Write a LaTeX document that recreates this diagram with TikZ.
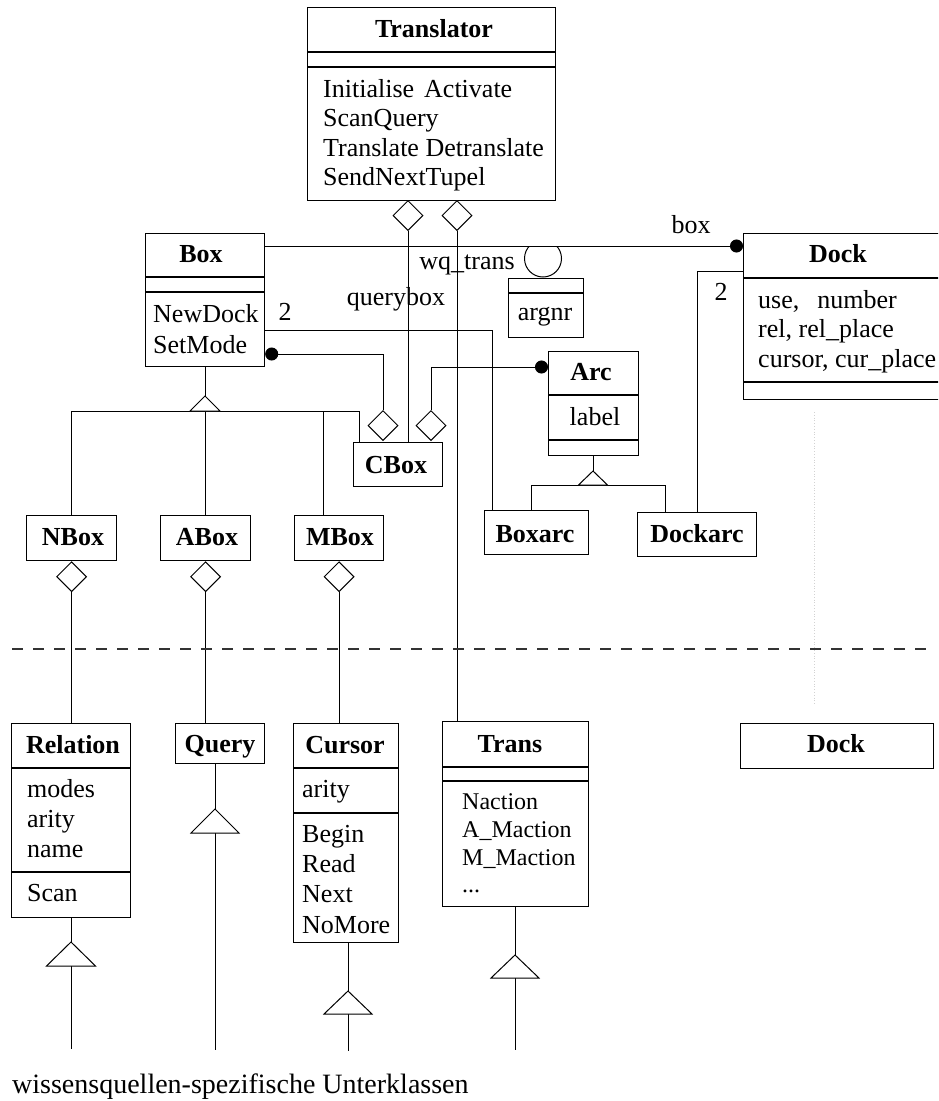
\documentclass[tikz,border=0pt]{standalone}
\usepackage{fontspec}
\setmainfont{Liberation Serif}
\usetikzlibrary{arrows.meta,shapes.geometric,calc}

\newcommand{\fsN}{\fontsize{26}{29}\selectfont}
\newcommand{\fsS}{\fontsize{24}{28}\selectfont}
\newcommand{\fsL}{\fontsize{28}{32}\selectfont}

\begin{document}
\begin{tikzpicture}[x=1pt,y=-1pt,
  cls/.style={draw, line width=1.2pt, anchor=north west, inner sep=0pt, fill=white},
  ttl/.style={anchor=base, inner sep=0pt, font=\fsN\bfseries},
  txt/.style={anchor=base west, inner sep=0pt, font=\fsN},
  stxt/.style={anchor=base west, inner sep=0pt, font=\fsS},
  lbl/.style={anchor=base, inner sep=0pt, font=\fsN},
  conn/.style={line width=1pt},
  dotend/.style={conn, {Circle[length=13pt]}-},
  agg/.style={diamond, draw, line width=1pt, fill=white, inner sep=0pt,
              minimum width=30pt, minimum height=30pt},
  gen/.style={draw, line width=1pt, fill=white},
  div/.style={line width=1.2pt},
  thdiv/.style={line width=1.8pt}
]
\useasboundingbox (0,0) rectangle (938,1101);
\clip (0,0) rectangle (938,1101);

% ---------- class boxes ----------
\node[cls, minimum width=248pt, minimum height=193pt] (trl)    at (307,7)   {};
\node[cls, minimum width=119pt, minimum height=133pt] (box)    at (145,233) {};
\node[cls, minimum width=220pt, minimum height=166pt] (dock)   at (743,233) {};
\node[cls, minimum width=75pt,  minimum height=59pt]  (argnr)  at (508,278) {};
\node[cls, minimum width=90pt,  minimum height=104pt] (arc)    at (548,351) {};
\node[cls, minimum width=89pt,  minimum height=44pt]  (cbox)   at (353,442) {};
\node[cls, minimum width=104pt, minimum height=44pt]  (boxarc) at (484,510) {};
\node[cls, minimum width=119pt, minimum height=44pt]  (dockarc) at (637,512) {};
\node[cls, minimum width=90pt,  minimum height=45pt]  (nbox)   at (26,515)  {};
\node[cls, minimum width=90pt,  minimum height=45pt]  (abox)   at (160,515) {};
\node[cls, minimum width=89pt,  minimum height=45pt]  (mbox)   at (294,515) {};
\node[cls, minimum width=119pt, minimum height=194pt] (rel)    at (11,723)  {};
\node[cls, minimum width=89pt,  minimum height=40pt]  (query)  at (175,723) {};
\node[cls, minimum width=105pt, minimum height=219pt] (cursor) at (293,723) {};
\node[cls, minimum width=146pt, minimum height=185pt] (trans)  at (442,721) {};
\node[cls, minimum width=193pt, minimum height=45pt]  (dockb)  at (740,723) {};

% ---------- compartment dividers ----------
\draw[thdiv] (trl.west |- 0,52) -- (trl.east |- 0,52);
\draw[thdiv] (trl.west |- 0,67) -- (trl.east |- 0,67);
\draw[thdiv] (box.west |- 0,277) -- (box.east |- 0,277);
\draw[thdiv] (box.west |- 0,292) -- (box.east |- 0,292);
\draw[div] (dock.west |- 0,278) -- (dock.east |- 0,278);
\draw[div] (dock.west |- 0,382) -- (dock.east |- 0,382);
\draw[thdiv] (argnr.west |- 0,293) -- (argnr.east |- 0,293);
\draw[div] (arc.west |- 0,395) -- (arc.east |- 0,395);
\draw[div] (arc.west |- 0,440) -- (arc.east |- 0,440);
\draw[div] (rel.west |- 0,768) -- (rel.east |- 0,768);
\draw[div] (rel.west |- 0,872) -- (rel.east |- 0,872);
\draw[div] (cursor.west |- 0,768) -- (cursor.east |- 0,768);
\draw[thdiv] (cursor.west |- 0,813) -- (cursor.east |- 0,813);
\draw[thdiv] (trans.west |- 0,767) -- (trans.east |- 0,767);
\draw[div] (trans.west |- 0,781) -- (trans.east |- 0,781);

% ---------- class names ----------
\node[ttl] (t-trl)    at (434,37)  {Translator};
\node[ttl] (t-box)    at (201,262) {Box};
\node[ttl] (t-dock)   at (838,262) {Dock};
\node[ttl] (t-arc)    at (591,380) {Arc};
\node[ttl] (t-cbox)   at (396,473) {CBox};
\node[ttl] (t-boxarc) at (535,542) {Boxarc};
\node[ttl] (t-dockarc) at (697,542) {Dockarc};
\node[ttl] (t-nbox)   at (73,545)  {NBox};
\node[ttl] (t-abox)   at (207,545) {ABox};
\node[ttl] (t-mbox)   at (340,545) {MBox};
\node[ttl] (t-rel)    at (73,753)  {Relation};
\node[ttl] (t-query)  at (220,752) {Query};
\node[ttl] (t-cursor) at (345,753) {Cursor};
\node[ttl] (t-trans)  at (510,752) {Trans};
\node[ttl] (t-dockb)  at (836,752) {Dock};

% ---------- members ----------
\node[txt] (m-trl1) at (323,97)  {Initialise\hspace{10pt}Activate};
\node[txt] (m-trl2) at (323,126) {ScanQuery};
\node[txt] (m-trl3) at (323,156) {Translate Detranslate};
\node[txt] (m-trl4) at (323,185) {SendNextTupel};
\node[txt] (m-box1) at (153,322) {NewDock};
\node[txt] (m-box2) at (153,353) {SetMode};
\node[txt] (m-dock1) at (758,308) {use,\hspace{18pt}number};
\node[txt] (m-dock2) at (758,337) {rel, rel\_place};
\node[txt] (m-dock3) at (758,367) {cursor, cur\_place};
\node[lbl] (m-argnr) at (545,320) {argnr};
\node[lbl] (m-arc)   at (595,425) {label};
\node[txt] (m-rel1) at (27,797) {modes};
\node[txt] (m-rel2) at (27,827) {arity};
\node[txt] (m-rel3) at (27,857) {name};
\node[txt] (m-rel4) at (27,901) {Scan};
\node[txt] (m-cur1) at (302,797) {arity};
\node[txt] (m-cur2) at (302,842) {Begin};
\node[txt] (m-cur3) at (302,872) {Read};
\node[txt] (m-cur4) at (302,902) {Next};
\node[txt] (m-cur5) at (302,933) {NoMore};
\node[stxt] (m-tr1) at (462,809) {Naction};
\node[stxt] (m-tr2) at (462,837) {A\_Maction};
\node[stxt] (m-tr3) at (462,865) {M\_Maction};
\node[stxt] (m-tr4) at (462,892) {...};

% ---------- aggregation diamonds ----------
\node[agg, anchor=north] (ad1) at (408,200) {};
\node[agg, anchor=north] (ad2) at (457,200) {};
\node[agg, anchor=south] (cd1) at (383,441) {};
\node[agg, anchor=south] (cd2) at (431,441) {};
\node[agg, anchor=north] (nd)  at (nbox.south) {};
\node[agg, anchor=north] (ad)  at (abox.south) {};
\node[agg, anchor=north] (md)  at (mbox.south) {};

% ---------- associations ----------
\draw[conn] (ad1.south) -- (ad1.south |- cbox.north);
\draw[conn] (ad2.south) -- (ad2.south |- trans.north);
\draw[dotend] ([yshift=-13pt]dock.north west) -- ([yshift=-13pt]box.north east);
\draw[conn] ([yshift=-97pt]box.north east) -| ([xshift=8pt]boxarc.north west);
\draw[dotend] ([yshift=-121pt]box.north east) -| (cd1.north);
\draw[dotend] ([yshift=-16pt]arc.north west) -| (cd2.north);
\draw[conn] ([yshift=-38pt]dock.north west) -| (dockarc.north);
\draw[conn] (nd.south) -- (nd.south |- rel.north);
\draw[conn] (ad.south) -- (ad.south |- query.north);
\draw[conn] (md.south) -- (md.south |- cursor.north);

% association labels
\node[lbl] (l-box)   at (691,233) {box};
\node[lbl] (l-wq)    at (467,269) {wq\_trans};
\node[lbl] (l-qbox)  at (396,305) {querybox};
\node[lbl] (l-two1)  at (285,320) {2};
\node[lbl] (l-two2)  at (721,300) {2};

% qualifier circle on the wq_trans end
\begin{scope}
  \clip (500,246.5) rectangle (600,300);
  \draw[conn] (543,258.5) circle (18.5);
\end{scope}

% ---------- generalisation: Box ----------
\coordinate (gbox)  at (205,396);
\coordinate (gboxb) at (205,411);
\coordinate (mbin)  at (323,515);
\coordinate (cbin)  at (359,442);
\draw[conn] (gbox |- box.south) -- (gbox);
\draw[conn] (gboxb -| nbox.north) -- (gboxb -| cbin);
\draw[conn] (gboxb -| nbox.north) -- (nbox.north);
\draw[conn] (gboxb -| abox.north) -- (abox.north);
\draw[conn] (gboxb -| mbin) -- (mbin);
\draw[conn] (gboxb -| cbin) -- (cbin);
\draw[gen] (gbox) -- ++(15,15) -- ++(-30,0) -- cycle;

% ---------- generalisation: Arc ----------
\coordinate (garc)  at (593,471);
\coordinate (garcb) at (593,485);
\coordinate (bain)  at (531,510);
\coordinate (dain)  at (665,512);
\draw[conn] (garc |- arc.south) -- (garc);
\draw[conn] (garcb -| bain) -- (garcb -| dain);
\draw[conn] (garcb -| bain) -- (bain);
\draw[conn] (garcb -| dain) -- (dain);
\draw[gen] (garc) -- ++(14.5,14) -- ++(-29,0) -- cycle;

% ---------- open-ended subclass branches ----------
\coordinate (grel) at (71,942);   \coordinate (erel) at (71,1049);
\coordinate (gqry) at (215,809);  \coordinate (eqry) at (215,1050);
\coordinate (gcur) at (348,991);  \coordinate (ecur) at (348,1051);
\coordinate (gtrn) at (515,955);  \coordinate (etrn) at (515,1050);
\draw[conn] (grel |- rel.south) -- (grel);
\draw[conn] (gqry |- query.south) -- (gqry);
\draw[conn] (gcur |- cursor.south) -- (gcur);
\draw[conn] (gtrn |- trans.south) -- (gtrn);
\draw[conn] ($(grel)+(0,24)$) -- (erel);
\draw[conn] ($(gqry)+(0,24)$) -- (eqry);
\draw[conn] ($(gcur)+(0,23)$) -- (ecur);
\draw[conn] ($(gtrn)+(0,23)$) -- (etrn);
\draw[gen] (grel) -- ++(24.5,24) -- ++(-49,0) -- cycle;
\draw[gen] (gqry) -- ++(24,24) -- ++(-48,0) -- cycle;
\draw[gen] (gcur) -- ++(24,23) -- ++(-48,0) -- cycle;
\draw[gen] (gtrn) -- ++(24,23) -- ++(-48,0) -- cycle;

% ---------- separators ----------
\draw[line width=1.2pt, black!80, dash pattern=on 11pt off 10pt] (12,649) -- (930,649);
\draw[gray!35, dotted, line width=0.8pt] (814,412) -- (814,705);

\node[anchor=base west, inner sep=0pt, font=\fsL] (caption) at (12,1093)
  {wissensquellen-spezifische Unterklassen};
\end{tikzpicture}
\end{document}
